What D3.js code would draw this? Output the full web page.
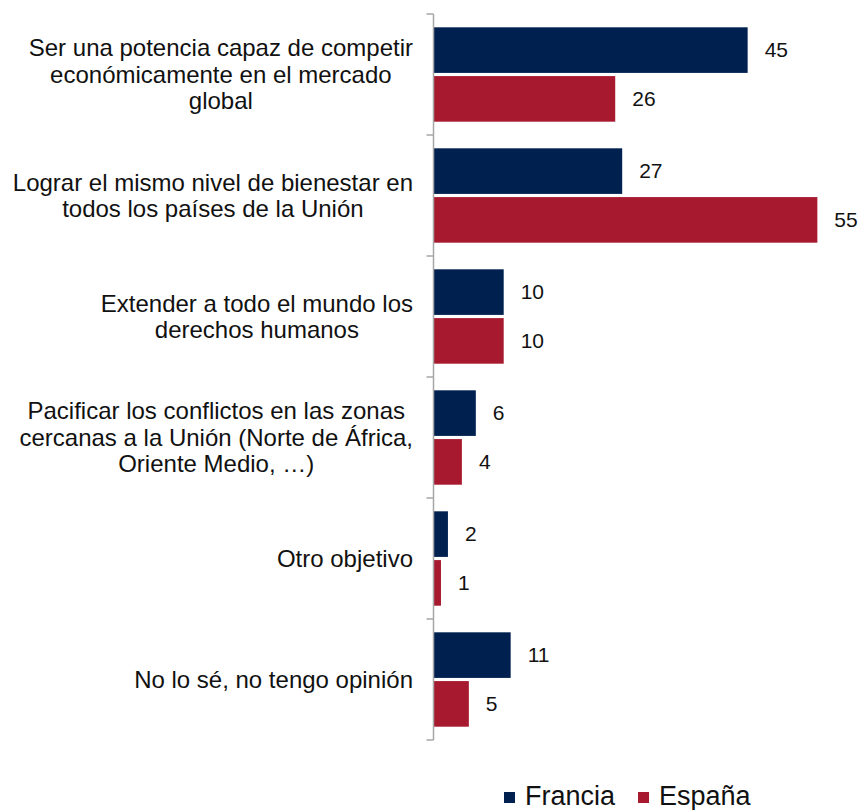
<!DOCTYPE html>
<html>
<head>
<meta charset="utf-8">
<script src="https://cdn.jsdelivr.net/npm/d3@7"></script>
<style>
  html, body { margin: 0; padding: 0; background: #fff; }
  svg { display: block; font-family: "Liberation Sans", Arial, sans-serif; }
</style>
</head>
<body>
<svg id="chart" width="861" height="810"></svg>
<script>
const categories = [
  ["Ser una potencia capaz de competir", "económicamente en el mercado", "global"],
  ["Lograr el mismo nivel de bienestar en", "todos los países de la Unión"],
  ["Extender a todo el mundo los", "derechos humanos"],
  ["Pacificar los conflictos en las zonas", "cercanas a la Unión (Norte de África,", "Oriente Medio, …)"],
  ["Otro objetivo"],
  ["No lo sé, no tengo opinión"]
];
const seriesNames = ["Francia", "España"];
const francia = [45, 27, 10, 6, 2, 11];
const espana = [26, 55, 10, 4, 1, 5];
const colors = ["#00214f", "#a6192e"];

(function () {
const svg = d3.select("#chart");
const axisX = 433.5;
const plotTop = 14, plotBottom = 740;

const idx = d3.range(categories.length);
const y = d3.scaleBand().domain(idx).range([plotTop, plotBottom]).paddingInner(0.22).paddingOuter(0.11);
const ySub = d3.scaleBand().domain([0, 1]).range([0, y.bandwidth()]).paddingInner(0.065);
const x = d3.scaleLinear().domain([0, 55]).range([434, 434 + 55 * 6.97]);

const data = idx.map(i => ({i, vals: [francia[i], espana[i]]}));

const g = svg.append("g");
data.forEach(d => {
  d.vals.forEach((v, s) => {
    const yy = y(d.i) + ySub(s);
    g.append("rect")
      .attr("x", x(0))
      .attr("y", yy)
      .attr("width", x(v) - x(0))
      .attr("height", ySub.bandwidth())
      .attr("fill", colors[s]);
    g.append("text")
      .attr("x", x(v) + 17)
      .attr("y", yy + ySub.bandwidth() / 2)
      .attr("dy", "0.35em")
      .attr("font-size", 21)
      .attr("fill", "#111")
      .text(v);
  });
});

const step = y.step();
svg.append("line").attr("x1", axisX).attr("x2", axisX).attr("y1", plotTop).attr("y2", plotBottom)
  .attr("stroke", "#a6a6a6").attr("stroke-width", 1.5);
d3.range(categories.length + 1).forEach(k => {
  const yy = plotTop + k * step;
  svg.append("line").attr("x1", axisX - 7).attr("x2", axisX).attr("y1", yy).attr("y2", yy)
    .attr("stroke", "#a6a6a6").attr("stroke-width", 1.5);
});

const labelRight = 413;
const lineH = 26.5;
categories.forEach((lines, i) => {
  const cy = plotTop + i * step + step / 2;
  const tg = svg.append("g");
  const texts = lines.map((ln, j) => tg.append("text")
    .attr("font-size", 24)
    .attr("fill", "#111")
    .attr("text-anchor", "middle")
    .attr("y", cy + (j - (lines.length - 1) / 2) * lineH)
    .attr("dy", "0.35em")
    .text(ln));
  const maxW = d3.max(texts, t => t.node().getComputedTextLength());
  texts.forEach(t => t.attr("x", labelRight - maxW / 2));
});

const legend = svg.append("g");
let lx = 504;
seriesNames.forEach((name, s) => {
  legend.append("rect").attr("x", lx).attr("y", 792).attr("width", 11).attr("height", 11).attr("fill", colors[s]);
  const t = legend.append("text").attr("x", lx + 21).attr("y", 805).attr("font-size", 27).attr("fill", "#111").text(name);
  lx += 21 + t.node().getComputedTextLength() + 23;
});
})();
</script>
</body>
</html>
